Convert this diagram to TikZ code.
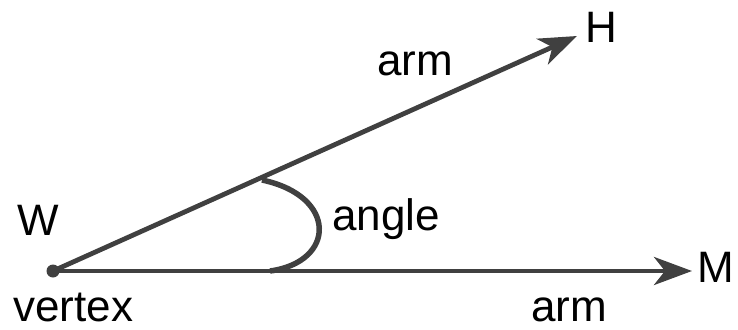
\documentclass[tikz,border=0pt]{standalone}
\usepackage{fontspec}
\setmainfont{Liberation Sans}
\usetikzlibrary{arrows.meta}
\definecolor{linegrey}{HTML}{404040}
\begin{document}
\begin{tikzpicture}[x=1pt,y=-1pt,
  armline/.style={draw=linegrey,line width=4.8pt,-{Stealth[length=38pt,width=28pt,inset=11pt]}},
  lbl/.style={inner sep=0pt,anchor=base west,font=\fontsize{44}{50}\selectfont}]
\useasboundingbox (0,0) rectangle (738,329);
\coordinate (W) at (53,271);
\coordinate (H) at (577,36);
\coordinate (M) at (692,271);
\coordinate (A1) at (262,180);
\coordinate (A2) at (270,271);
\draw[armline] (W) -- (H);
\draw[armline] (W) -- (M);
\fill[linegrey] (W) circle (6.5pt);
\draw[linegrey,line width=5.5pt] (A1) .. controls (338,196) and (336,262) .. (A2);
\node[lbl] (tH) at (585,43) {H};
\node[lbl] (tM) at (697,282) {M};
\node[lbl] (tW) at (17,235) {W};
\node[lbl] (tarm1) at (377,75) {arm};
\node[lbl] (tangle) at (332,230) {angle};
\node[lbl] (tvertex) at (13,321) {vertex};
\node[lbl] (tarm2) at (531,321) {arm};
\end{tikzpicture}
\end{document}
